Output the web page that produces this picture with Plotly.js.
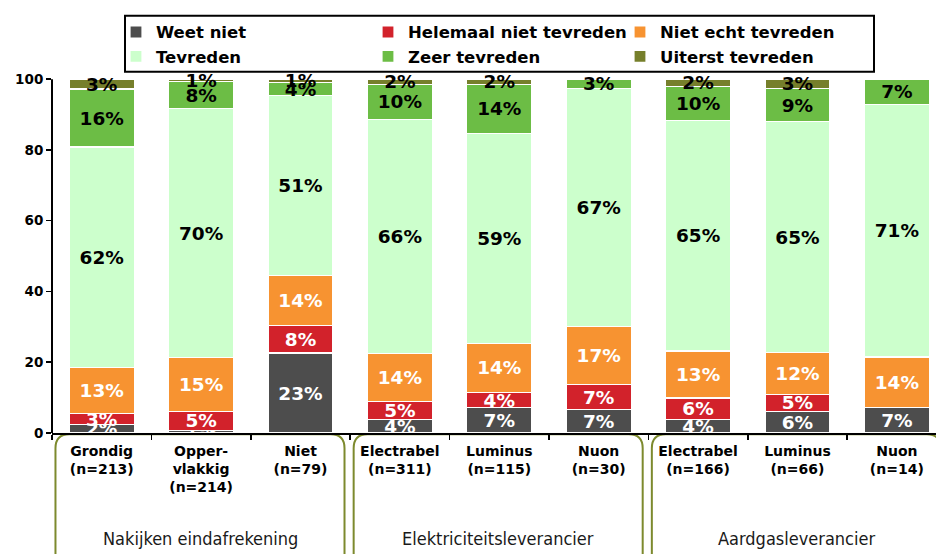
<!DOCTYPE html>
<html>
<head>
<meta charset="utf-8">
<script src="https://cdn.plot.ly/plotly-3.0.1.min.js"></script>
<style>html,body{margin:0;padding:0;background:#fff;}#chart{width:936px;height:554px;}</style>
</head>
<body>
<div id="chart"></div>
<script>
const categories = ['Grondig<br>(n=213)', 'Opper-<br>vlakkig<br>(n=214)', 'Niet<br>(n=79)', 'Electrabel<br>(n=311)', 'Luminus<br>(n=115)', 'Nuon<br>(n=30)', 'Electrabel<br>(n=166)', 'Luminus<br>(n=66)', 'Nuon<br>(n=14)'];
const seriesNames = ['Weet niet', 'Helemaal niet tevreden', 'Niet echt tevreden', 'Tevreden', 'Zeer tevreden', 'Uiterst tevreden'];
const weetNiet     = [2.4, 0.8, 22.6, 3.8, 7.1, 6.6, 3.8, 6.1, 7.1];
const helemaalNiet = [3.1, 5.3, 7.7, 5.0, 4.3, 7.0, 6.1, 4.8, 0];
const nietEcht     = [12.9, 15.2, 14.3, 13.7, 14.0, 16.6, 13.3, 11.8, 14.4];
const tevreden     = [62.4, 70.4, 50.8, 66.2, 59.3, 67.1, 65.2, 65.3, 71.3];
const zeer         = [16.4, 7.6, 3.6, 9.8, 13.8, 2.7, 9.6, 9.3, 7.2];
const uiterst      = [2.8, 0.7, 1.0, 1.5, 1.5, 0, 2.0, 2.7, 0];
const groups = [
  {label: 'Nakijken eindafrekening', first: 0, last: 2},
  {label: 'Elektriciteitsleverancier', first: 3, last: 5},
  {label: 'Aardgasleverancier', first: 6, last: 8}
];
const yTicks = [0, 20, 40, 60, 80, 100];

const colors = ['#4d4d4d', '#d2222b', '#f79331', '#ccffcc', '#6cbd45', '#767f2b'];
const textColors = ['#ffffff', '#ffffff', '#ffffff', '#000000', '#000000', '#000000'];
const allSeries = [weetNiet, helemaalNiet, nietEcht, tevreden, zeer, uiterst];

const font = 'DejaVu Sans, Verdana, sans-serif';

const traces = allSeries.map((vals, i) => ({
  type: 'bar',
  name: seriesNames[i],
  x: categories,
  y: vals.map(v => v === 0 ? null : v),
  text: vals.map(v => v === 0 ? '' : Math.round(v) + '%'),
  texttemplate: '%{text}',
  textposition: 'inside',
  insidetextanchor: 'middle',
  constraintext: 'none',
  textangle: 0,
  insidetextfont: {family: font, size: 18.5, weight: 'bold', color: textColors[i]},
  marker: {color: colors[i], line: {color: '#ffffff', width: 1.2}},
  hoverinfo: 'skip'
}));

// pixel geometry: y=0 at 432.7px, y=100 at 79.3px; plot area extends a bit above 100
const W = 936, H = 554, L = 52, R = 0, B = 121.3;
const pxPerUnit = (432.7 - 79.3) / 100;
const yr = [0, 104];
const T = 432.7 - yr[1] * pxPerUnit;
const plotW = W - L - R;
const plotH = H - T - B;
const xr = [-0.5, 8.394];
const pxToPaperY = py => (H - B - py) / plotH;
const pxToPaperX = px => (px - L) / plotW;

const shapes = [];
const annotations = [];
const boxColor = '#7d8a2e';
const rx = 14 / (plotW / (xr[1] - xr[0]));
const ry = 14 / plotH;
groups.forEach(g => {
  const x0 = g.first - 0.465, x1 = g.last + 0.443;
  const y0 = pxToPaperY(434), y1 = pxToPaperY(575);
  const path = `M ${x0} ${y1} L ${x0} ${y0 - ry} Q ${x0} ${y0} ${x0 + rx} ${y0} L ${x1 - rx} ${y0} Q ${x1} ${y0} ${x1} ${y0 - ry} L ${x1} ${y1}`;
  shapes.push({type: 'path', xref: 'x', yref: 'paper', path: path, line: {color: boxColor, width: 2}, layer: 'below'});
  annotations.push({
    xref: 'x', yref: 'paper', x: (x0 + x1) / 2, y: pxToPaperY(538),
    text: g.label, showarrow: false, xanchor: 'center', yanchor: 'middle',
    font: {family: 'DejaVu Sans Condensed, DejaVu Sans, sans-serif', size: 18, color: '#1a1a1a'}
  });
});
// y axis line from 0 to 100 only
shapes.push({type: 'line', xref: 'paper', yref: 'y', x0: 0, x1: 0, y0: yTicks[0], y1: yTicks[yTicks.length - 1],
  line: {color: '#000000', width: 2}, layer: 'above'});
// legend frame
shapes.push({type: 'rect', xref: 'paper', yref: 'paper',
  x0: pxToPaperX(125), x1: pxToPaperX(874), y0: pxToPaperY(16), y1: pxToPaperY(72),
  line: {color: '#000000', width: 2}, fillcolor: 'rgba(0,0,0,0)', layer: 'above'});

const layout = {
  width: W, height: H,
  margin: {l: L, r: R, t: T, b: B, autoexpand: false},
  paper_bgcolor: '#ffffff', plot_bgcolor: '#ffffff',
  barmode: 'stack',
  bargap: 0.345,
  showlegend: true,
  legend: {
    orientation: 'h', traceorder: 'normal',
    x: pxToPaperX(116), xanchor: 'left',
    y: pxToPaperY(15), yanchor: 'top',
    bgcolor: 'rgba(255,255,255,0)', borderwidth: 0,
    font: {family: font, size: 16.5, weight: 'bold', color: '#000000'},
    entrywidth: 207, entrywidthmode: 'pixels'
  },
  xaxis: {
    type: 'category', range: xr, showgrid: false, zeroline: false,
    showline: true, linecolor: '#000000', linewidth: 2,
    ticks: 'outside', tickson: 'boundaries', ticklen: 5, tickcolor: '#000000', tickwidth: 1.5,
    ticklabelstandoff: 4,
    tickfont: {family: font, size: 14, weight: 'bold', color: '#000000'},
    fixedrange: true
  },
  yaxis: {
    range: yr, tickvals: yTicks, showgrid: false, zeroline: false,
    showline: false,
    ticks: 'outside', ticklen: 5, tickcolor: '#000000', tickwidth: 1.5,
    tickfont: {family: font, size: 13.5, weight: 'bold', color: '#000000'},
    fixedrange: true
  },
  shapes: shapes,
  annotations: annotations
};

Plotly.newPlot('chart', traces, layout, {displayModeBar: false, staticPlot: true});
</script>
</body>
</html>
